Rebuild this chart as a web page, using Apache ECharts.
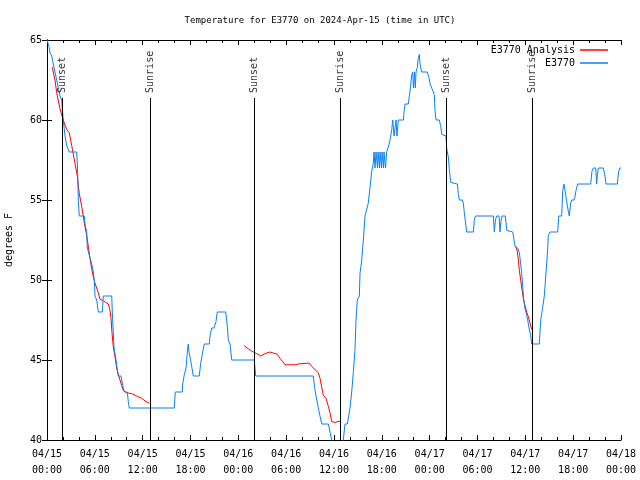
<!DOCTYPE html>
<html>
<head>
<meta charset="utf-8">
<script src="https://cdn.jsdelivr.net/npm/echarts@6/dist/echarts.min.js"></script>
<style>html,body{margin:0;padding:0;background:#fff}#c{width:640px;height:480px}</style>
</head>
<body>
<div id="c"></div>
<script>
// Hours since 2024-04-15 00:00 UTC, temperature in degrees F
const obsHours = [0,0.25,0.38,0.59,0.79,1.00,1.22,1.42,1.63,1.84,2.04,2.26,2.47,2.80,3.73,3.83,3.93,4.05,4.68,4.77,4.98,5.06,5.31,5.61,5.81,5.93,6.02,6.23,6.44,6.94,7.06,8.12,8.19,8.32,8.40,8.66,8.82,8.94,9.28,9.50,9.70,10.07,10.20,10.32,15.97,16.09,16.97,17.02,17.19,17.44,17.60,17.72,17.81,17.94,18.15,18.35,19.10,19.28,19.53,19.73,20.36,20.45,20.66,20.95,21.20,21.36,22.42,22.62,22.74,22.96,23.17,26.00,26.09,26.18,33.40,33.62,33.83,34.03,34.25,34.46,35.29,35.50,35.71,35.88,37.00,37.17,37.38,37.67,38.01,38.22,38.42,38.63,38.76,38.92,39.18,39.26,39.48,39.68,39.89,40.30,40.52,40.73,40.93,41.02,41.14,41.27,41.46,41.52,41.71,41.77,41.96,42.02,42.21,42.27,42.46,42.61,42.81,43.03,43.24,43.37,43.47,43.53,43.72,43.78,43.90,44.07,44.28,44.72,44.78,44.91,45.32,45.53,45.75,45.87,45.97,46.10,46.20,46.29,46.45,46.58,46.70,46.79,47.00,47.70,47.88,48.04,48.26,48.58,48.67,48.80,49.21,49.39,49.51,50.05,50.14,50.34,50.47,50.64,50.77,51.47,51.59,51.72,52.10,52.22,52.35,52.52,52.65,53.48,53.60,53.73,55.99,56.11,56.26,56.41,56.70,56.82,56.95,57.08,57.49,57.67,57.77,58.42,58.58,58.71,59.04,59.25,59.42,59.55,59.67,59.80,59.96,60.17,60.30,60.46,60.68,60.80,61.75,61.93,62.18,62.38,62.60,62.76,62.89,63.10,64.06,64.19,64.56,64.69,64.85,65.07,65.19,65.39,65.52,65.69,65.82,66.11,66.23,66.36,66.57,68.20,68.36,68.53,68.83,68.95,69.03,69.15,69.78,69.99,70.12,71.54,71.71,71.88,72.00];
const obsTemps = [65,64.6,64.2,64,63.5,63,62.5,62,61.5,61.25,60,59,58.4,58,58,57,55,54,54,53.5,53,52,52,51,50.5,50,49,48.75,48,48,49,49,48,46.7,45.8,45,44.4,44,44,43.4,43,43,42.4,42,42,43,43,43.5,44,44.5,45.5,46,45.5,45.2,44.6,44,44,44.8,45.5,46,46,46.5,47,47,47.4,48,48,47.1,46.25,46,45,45,44.5,44,44,43.1,43,42,42,41,41,40.5,40,39,39,40,41,41,42,43,44.2,45.6,47.5,48.75,49,50.4,51.25,52.5,54,54.8,55.8,56.8,57.3,58,57,58,57,58,57,58,57,58,57,58,57,58,58.3,58.75,59.4,60,60,59,59,60,59,60,60,60,60.5,61,61,61.8,62.8,63,62,63,62,63,63.3,63.9,64.1,63.5,63,63,62.7,62.3,62,61.6,60.6,60,60,59.6,59.1,59,58.2,57.7,56.9,56.1,56,56,55.4,55,55,54.8,54.2,53.5,53,53,53.75,54,54,53,53.8,54,54,53,53.7,54,54,53.1,53,53,52.5,52.1,52,51.7,51,50.4,49.6,48.75,48.2,47.8,47.5,47,46.5,46,46,47.5,48.3,49,50.5,51.6,52.8,53,53,54,54,55.6,56,56,54.9,54.3,54,54.8,55,55,55.2,55.6,56,56,56.8,57,57,56,56.5,57,57,56.5,56,56,56.8,57,57];

const anaHours1 = [0.66,1.00,1.22,1.63,2.04,2.47,2.80,3.10,3.51,3.80,4.05,4.35,4.55,4.77,4.98,5.18,5.39,5.61,5.81,6.02,6.23,6.44,6.65,7.06,7.69,7.90,8.03,8.15,8.32,8.53,8.74,8.94,9.16,9.37,9.57,10.00,10.62,11.25,11.88,12.42,12.83];
const anaTemps1 = [63.3,62.5,61.7,60.7,60,59.4,59.2,58.4,57.3,56.5,55.4,54.6,54.0,53.3,52.8,52.1,51.35,50.7,50.2,49.8,49.5,49.2,48.8,48.7,48.5,48.1,47.6,46.7,45.8,45.2,44.5,44.1,43.75,43.4,43.1,42.95,42.9,42.75,42.6,42.4,42.3];
const anaHours2 = [24.71,25.25,25.88,26.31,26.81,27.35,27.97,28.60,28.89,29.23,29.57,29.86,30.48,31.11,31.52,32.58,32.90,33.20,33.62,34.03,34.25,34.46,34.66,35.00,35.29,35.50,35.71,36.13,36.34,36.88];
const anaTemps2 = [45.9,45.7,45.5,45.4,45.25,45.4,45.5,45.4,45.35,45.1,44.9,44.7,44.7,44.7,44.75,44.8,44.8,44.6,44.4,44.2,43.85,43.3,42.8,42.6,42.1,41.7,41.15,41.1,41.2,41.2];
const anaHours3 = [58.79,58.99,59.12,59.25,59.42,59.58,59.75,59.96,60.17,60.38,60.59,60.80];
const anaTemps3 = [52.1,51.8,51.25,50.6,50.0,49.4,48.85,48.4,48.0,47.7,47.3,46.9];

const sunHours = [1.92, 12.92, 26.03, 36.82, 50.1, 60.84];
const sunLabels = ['Sunset','Sunrise','Sunset','Sunrise','Sunset','Sunrise'];

const yTicks = [40,45,50,55,60,65];
const titleText = 'Temperature for E3770 on 2024-Apr-15 (time in UTC)';

const zip = (a, b) => a.map((v, i) => [v, b[i]]);
const FONT = 'DejaVu Sans Mono';
const pad = n => (n < 10 ? '0' : '') + n;
function xLabel(h) {
  const d = 15 + Math.floor(h / 24);
  const hh = Math.round(h % 24);
  return '04/' + pad(d) + '\n' + pad(hh) + ':00';
}

const lineTop = 61.375, labelAnchor = 61.69;
const chart = echarts.init(document.getElementById('c'));
const axisCommon = {
  axisLine: { show: true, lineStyle: { color: '#000', width: 1 } },
  splitLine: { show: false }
};
const legendText = { fontFamily: FONT, fontSize: 10, color: '#000' };
chart.setOption({
  animation: false,
  backgroundColor: '#fff',
  title: { text: titleText, left: 'center', top: 11, textStyle: { fontFamily: FONT, fontSize: 9, fontWeight: 'normal', color: '#000' } },
  legend: [
    { data: ['E3770 Analysis'], right: 27, top: 40, orient: 'vertical', align: 'right', icon: 'rect', itemWidth: 28, itemHeight: 1.5, itemGap: 0, textStyle: legendText },
    { data: ['E3770'], right: 27, top: 53, orient: 'vertical', align: 'right', icon: 'rect', itemWidth: 28, itemHeight: 1.5, itemGap: 0, textStyle: legendText }
  ],
  grid: { left: 47, right: 19, top: 40, bottom: 40, containLabel: false, outerBoundsMode: 'none' },
  xAxis: [
    Object.assign({ type: 'value', min: 0, max: 72, interval: 6, position: 'bottom',
      axisTick: { show: true, inside: true, length: 5, lineStyle: { color: '#000' } },
      minorTick: { show: true, splitNumber: 3, length: 3, lineStyle: { color: '#000' } },
      axisLabel: { formatter: xLabel, fontFamily: FONT, fontSize: 10, color: '#000', margin: 6, lineHeight: 16 } }, axisCommon),
    Object.assign({ type: 'value', min: 0, max: 72, interval: 6, position: 'top',
      axisTick: { show: true, inside: true, length: 5, lineStyle: { color: '#000' } },
      minorTick: { show: true, splitNumber: 3, length: 3, lineStyle: { color: '#000' } },
      axisLabel: { show: false } }, axisCommon)
  ],
  yAxis: [
    Object.assign({ type: 'value', min: yTicks[0], max: yTicks[yTicks.length - 1], interval: 5, position: 'left',
      name: 'degrees F', nameLocation: 'middle', nameGap: 33, nameRotate: 90,
      nameTextStyle: { fontFamily: FONT, fontSize: 10, color: '#000' },
      axisTick: { show: true, inside: true, length: 5, lineStyle: { color: '#000' } },
      axisLabel: { fontFamily: FONT, fontSize: 10, color: '#000', margin: 5 } }, axisCommon),
    Object.assign({ type: 'value', min: yTicks[0], max: yTicks[yTicks.length - 1], interval: 5, position: 'right',
      axisTick: { show: true, inside: true, length: 5, lineStyle: { color: '#000' } },
      axisLabel: { show: false } }, axisCommon)
  ],
  series: [
    { name: 'E3770 Analysis', type: 'line', data: zip(anaHours1, anaTemps1), symbol: 'none', lineStyle: { color: '#ff0000', width: 1 }, itemStyle: { color: '#ff0000' }, z: 3 },
    { name: 'E3770 Analysis', type: 'line', data: zip(anaHours2, anaTemps2), symbol: 'none', lineStyle: { color: '#ff0000', width: 1 }, itemStyle: { color: '#ff0000' }, z: 3 },
    { name: 'E3770 Analysis', type: 'line', data: zip(anaHours3, anaTemps3), symbol: 'none', lineStyle: { color: '#ff0000', width: 1 }, itemStyle: { color: '#ff0000' }, z: 3 },
    { name: 'E3770', type: 'line', data: zip(obsHours, obsTemps), symbol: 'none', lineStyle: { color: '#0a80f5', width: 1 }, itemStyle: { color: '#0a80f5' }, z: 4,
      markLine: { silent: true, symbol: 'none', label: { show: false }, lineStyle: { color: '#000', width: 1, type: 'solid' },
        data: sunHours.map(h => [{ coord: [h, 40] }, { coord: [h, lineTop] }]) } },
    { name: 'sun', type: 'scatter', symbolSize: 0, z: 5, silent: true,
      data: sunHours.map((h, i) => ({ value: [h, labelAnchor], name: sunLabels[i] })),
      label: { show: true, formatter: p => p.name, position: 'inside', rotate: 90, align: 'left', verticalAlign: 'middle',
        fontFamily: FONT, fontSize: 10, color: '#000' } }
  ]
});
</script>
</body>
</html>
